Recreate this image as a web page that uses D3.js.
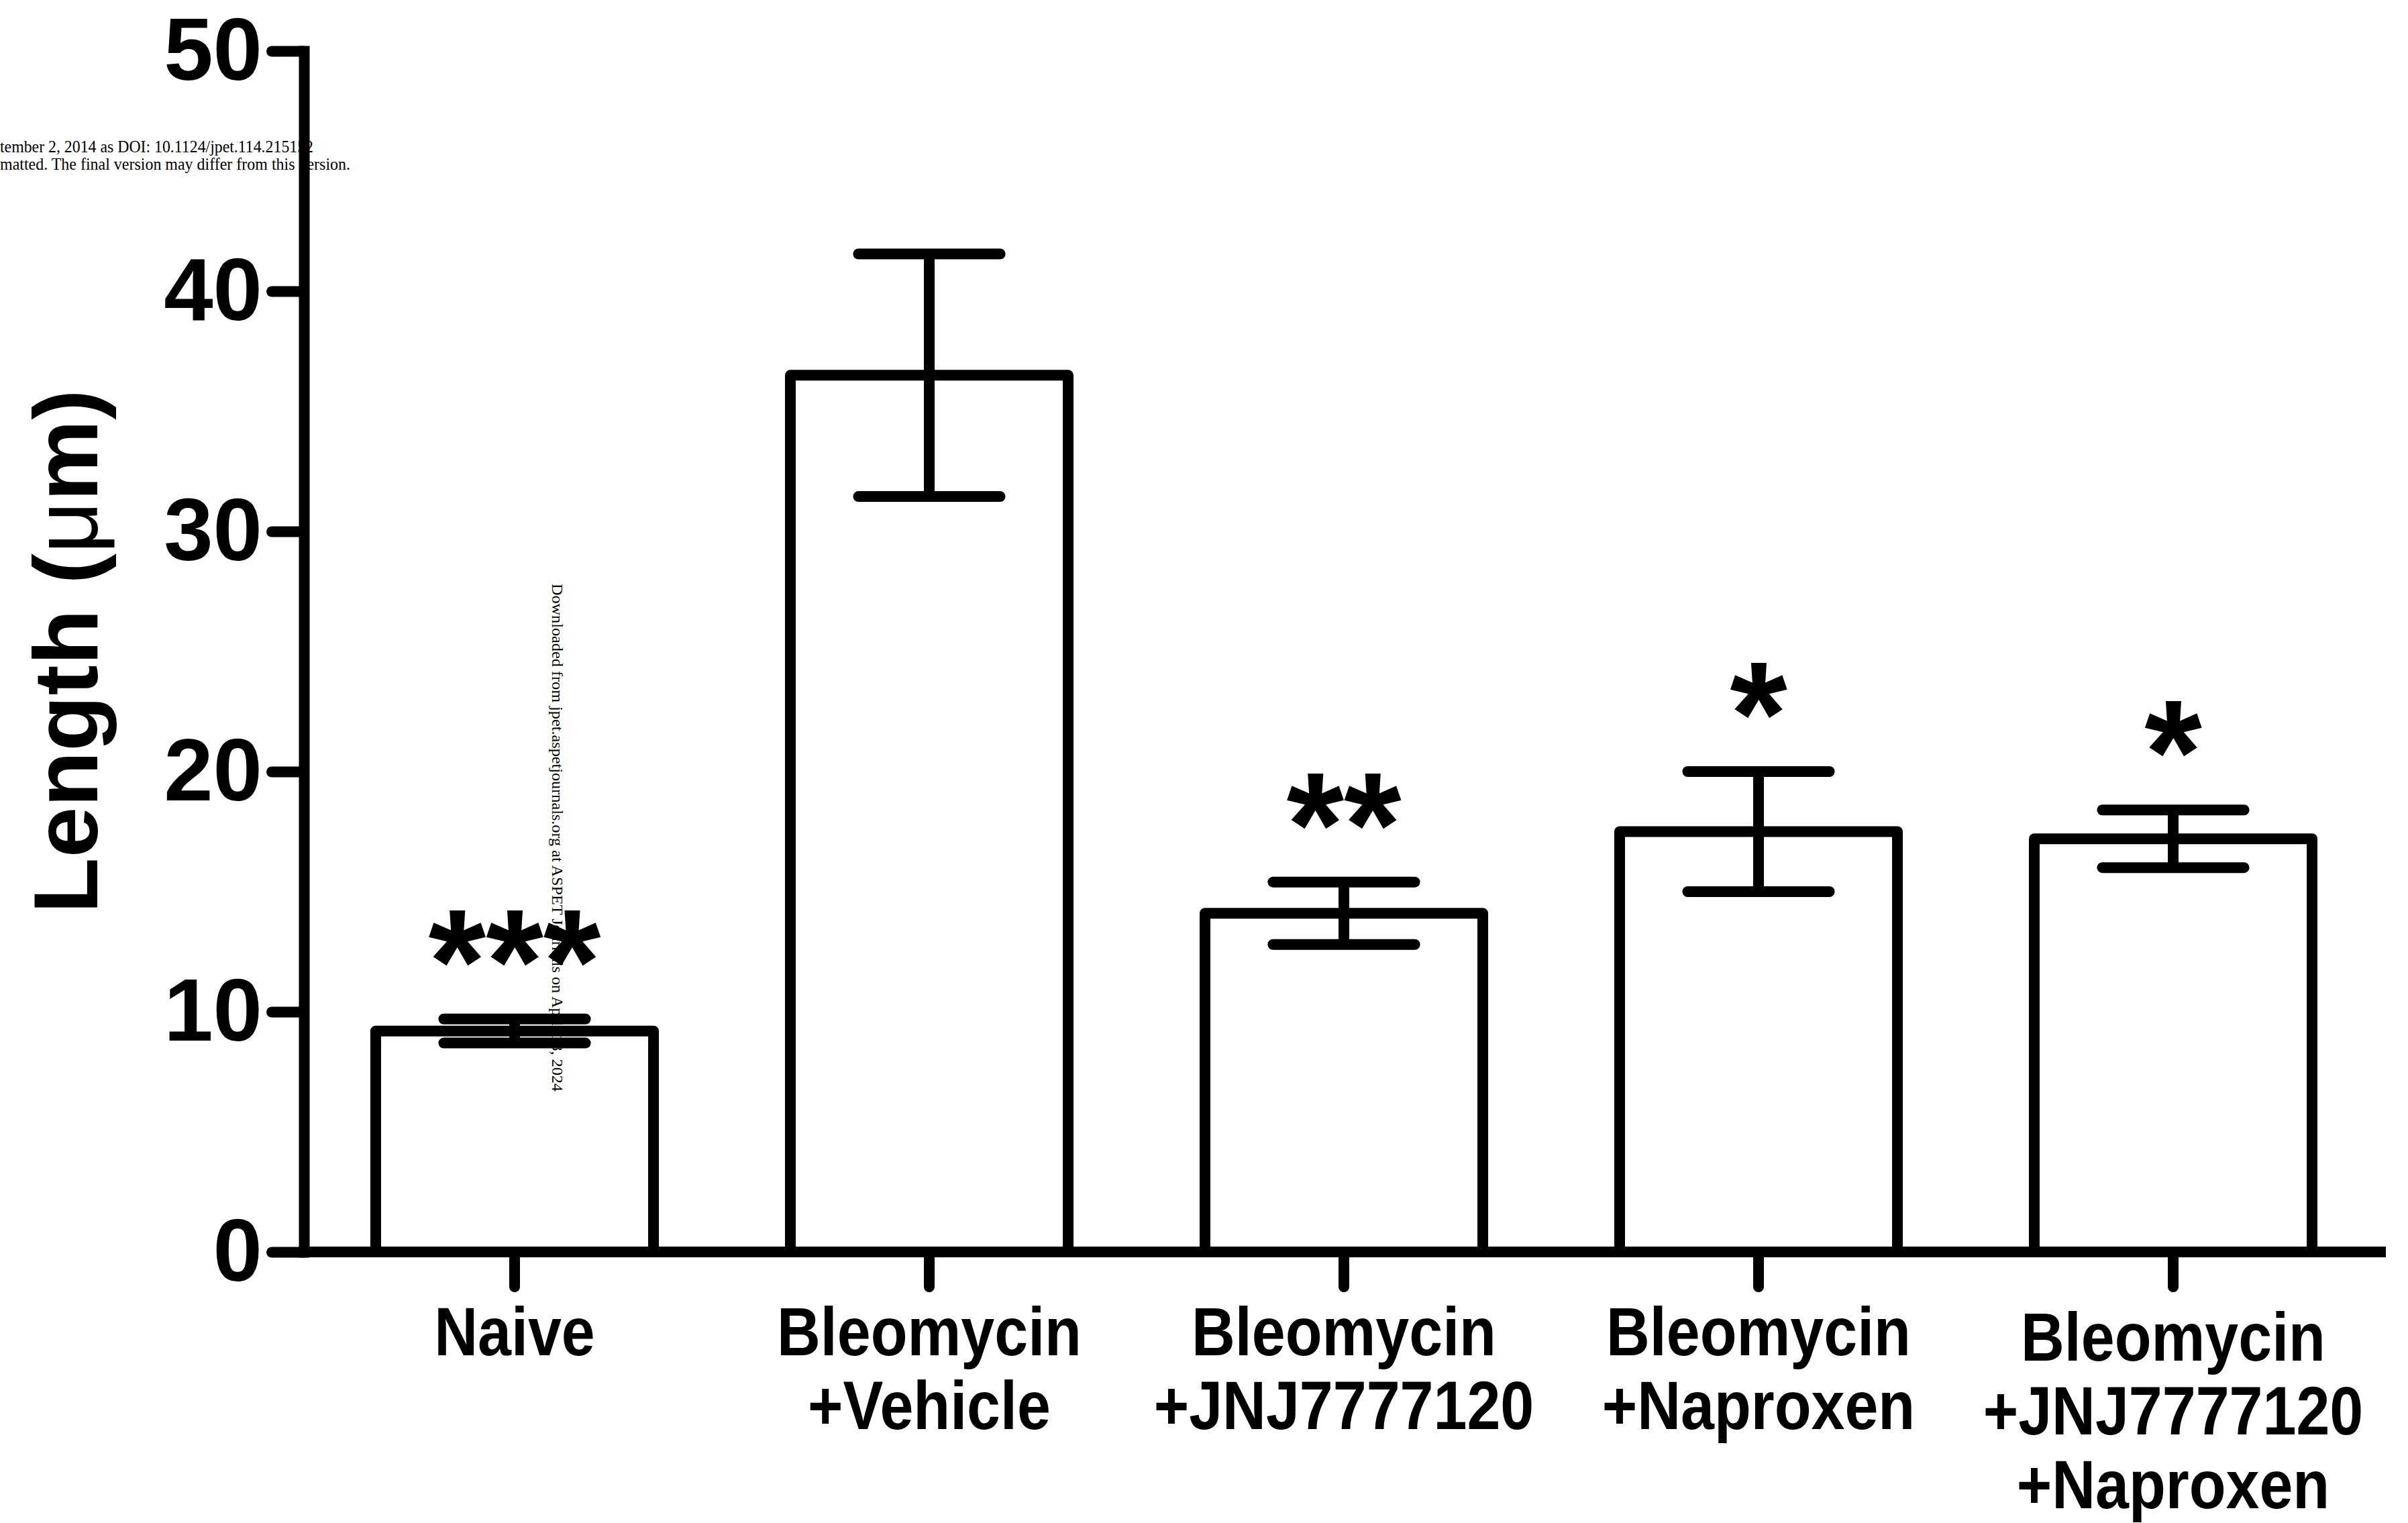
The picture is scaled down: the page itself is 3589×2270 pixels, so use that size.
<!DOCTYPE html>
<html>
<head>
<meta charset="utf-8">
<script src="https://cdn.jsdelivr.net/npm/d3@7"></script>
<style>
    html, body { margin: 0; padding: 0; background: #fff; }
    svg { display: block; }
    .axis text { font-family: "Liberation Sans", Arial, sans-serif; font-weight: bold; fill: #000; }
</style>
</head>
<body>
<div id="chart"></div>
<script>
const width = 3589;
const height = 2270;

// groups and values (mean +/- SEM, in µm)
const groups = ["Naive", "Bleomycin+Vehicle", "Bleomycin+JNJ7777120", "Bleomycin+Naproxen", "Bleomycin+JNJ7777120+Naproxen"];
const labelLines = [
    ["Naive"],
    ["Bleomycin", "+Vehicle"],
    ["Bleomycin", "+JNJ7777120"],
    ["Bleomycin", "+Naproxen"],
    ["Bleomycin", "+JNJ7777120", "+Naproxen"]
];
const means = [9.2, 36.5, 14.1, 17.5, 17.2];
const sems = [0.5, 5.05, 1.3, 2.5, 1.2];
const stars = ["***", "", "**", "*", "*"];
const yTicks = [0, 10, 20, 30, 40, 50];

const data = groups.map((g, i) => ({ group: g, lines: labelLines[i], mean: means[i], sem: sems[i], star: stars[i] }));

const plot = { left: 453, right: 3548, top: 76, bottom: 1866 };
const lw = 16;

const svg = d3.select("#chart")
    .append("svg")
    .attr("width", width)
    .attr("height", height)
    .attr("viewBox", [0, 0, width, height]);

svg.append("rect").attr("width", width).attr("height", height).attr("fill", "#fff");

const x = d3.scaleBand()
    .domain(groups)
    .range([plot.left + 5, plot.right])
    .paddingInner(0.33)
    .paddingOuter(0.165);

const y = d3.scaleLinear()
    .domain([0, 50])
    .range([plot.bottom, plot.top]);

// journal watermark text (sits behind the chart)
const wm = svg.append("g")
    .attr("font-family", "'Liberation Serif', 'Times New Roman', serif")
    .attr("font-size", 25)
    .attr("fill", "#000");

wm.append("text")
    .attr("x", 0).attr("y", 227)
    .attr("textLength", 467).attr("lengthAdjust", "spacingAndGlyphs")
    .text("tember 2, 2014 as DOI: 10.1124/jpet.114.215152");

wm.append("text")
    .attr("x", 0).attr("y", 253)
    .attr("textLength", 522).attr("lengthAdjust", "spacingAndGlyphs")
    .text("matted. The final version may differ from this version.");

wm.append("text")
    .attr("transform", "translate(823,870) rotate(90)")
    .attr("font-size", 24)
    .attr("textLength", 757).attr("lengthAdjust", "spacingAndGlyphs")
    .text("Downloaded from jpet.aspetjournals.org at ASPET Journals on April 18, 2024");

// bars
svg.append("g")
    .selectAll("rect")
    .data(data)
    .join("rect")
    .attr("x", d => x(d.group))
    .attr("y", d => y(d.mean))
    .attr("width", x.bandwidth())
    .attr("height", d => y(0) - y(d.mean))
    .attr("fill", "none")
    .attr("stroke", "#000")
    .attr("stroke-width", lw)
    .attr("stroke-linejoin", "round");

// error bars
const capHalf = x.bandwidth() * 0.255;
const err = svg.append("g")
    .attr("stroke", "#000")
    .attr("stroke-width", lw)
    .attr("stroke-linecap", "round");

err.selectAll(".stem")
    .data(data)
    .join("line")
    .attr("class", "stem")
    .attr("stroke-linecap", "butt")
    .attr("x1", d => x(d.group) + x.bandwidth() / 2)
    .attr("x2", d => x(d.group) + x.bandwidth() / 2)
    .attr("y1", d => y(d.mean + d.sem))
    .attr("y2", d => y(d.mean - d.sem));

err.selectAll(".cap")
    .data(data.flatMap(d => [{ d, v: d.mean + d.sem }, { d, v: d.mean - d.sem }]))
    .join("line")
    .attr("class", "cap")
    .attr("x1", c => x(c.d.group) + x.bandwidth() / 2 - capHalf)
    .attr("x2", c => x(c.d.group) + x.bandwidth() / 2 + capHalf)
    .attr("y1", c => y(c.v))
    .attr("y2", c => y(c.v));

// axes
const yAxis = svg.append("g")
    .attr("class", "axis")
    .attr("transform", `translate(${plot.left},0)`)
    .call(d3.axisLeft(y).tickValues(yTicks).tickSize(48).tickSizeOuter(0).tickPadding(14));

const xAxis = svg.append("g")
    .attr("class", "axis")
    .attr("transform", `translate(0,${plot.bottom})`)
    .call(d3.axisBottom(x).tickSize(52).tickSizeOuter(0).tickFormat(() => ""));

// x axis line starts at the y axis
xAxis.select(".domain").attr("d", `M${plot.left},0H${plot.right}`);

svg.selectAll(".axis .domain")
    .attr("stroke", "#000")
    .attr("stroke-width", lw)
    .attr("stroke-linecap", "square");

svg.selectAll(".axis .tick line")
    .attr("stroke", "#000")
    .attr("stroke-width", lw)
    .attr("stroke-linecap", "round");

yAxis.selectAll(".tick text")
    .attr("font-size", 132);

// multi-line category labels
svg.append("g")
    .attr("font-family", "'Liberation Sans', Arial, sans-serif")
    .attr("font-weight", "bold")
    .attr("font-size", 102)
    .attr("text-anchor", "middle")
    .selectAll("text")
    .data(data)
    .join("text")
    .attr("transform", d => `translate(${x(d.group) + x.bandwidth() / 2},${d.lines.length > 2 ? 2028 : 2020}) scale(0.88,1)`)
    .selectAll("tspan")
    .data(d => d.lines)
    .join("tspan")
    .attr("x", 0)
    .attr("y", (l, i) => i * 110)
    .text(l => l);

// significance stars
svg.append("g")
    .attr("font-family", "'Liberation Sans', Arial, sans-serif")
    .attr("font-weight", "bold")
    .attr("font-size", 220)
    .attr("text-anchor", "middle")
    .selectAll("text")
    .data(data.filter(d => d.star))
    .join("text")
    .attr("x", d => x(d.group) + x.bandwidth() / 2)
    .attr("y", d => y(d.mean + d.sem) - 10)
    .text(d => d.star);

// y axis title
const title = svg.append("text")
    .attr("transform", `translate(145,${(plot.top + plot.bottom) / 2}) rotate(-90)`)
    .attr("text-anchor", "middle")
    .attr("font-family", "'Liberation Sans', Arial, sans-serif")
    .attr("font-weight", "bold")
    .attr("font-size", 136);
title.append("tspan").text("Length (");
title.append("tspan").attr("font-weight", "normal").text("μ");
title.append("tspan").text("m)");
</script>
</body>
</html>
